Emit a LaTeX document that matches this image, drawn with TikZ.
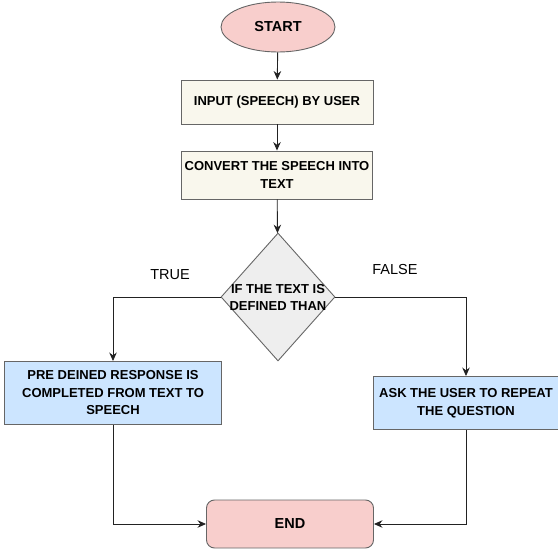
\documentclass[tikz,border=0pt]{standalone}
\usepackage{fontspec}
\setmainfont{Liberation Sans}
\usetikzlibrary{shapes.geometric,arrows.meta}

\definecolor{pinkfill}{HTML}{F8CECC}
\definecolor{beigefill}{HTML}{F9F7ED}
\definecolor{greyfill}{HTML}{EEEEEE}
\definecolor{bluefill}{HTML}{CCE5FF}
\definecolor{edgeline}{HTML}{666666}
\definecolor{arrowline}{HTML}{222222}

\begin{document}
\begin{tikzpicture}[x=1pt, y=-1pt,
      every node/.style = {draw=edgeline, line width=0.9pt, align=center,
        font=\fontsize{13}{17.5}\selectfont\bfseries, inner sep=2pt},
      terminal/.style = {shape=ellipse, fill=pinkfill,
        minimum width=114pt, minimum height=50pt,
        font=\fontsize{14.5}{17}\selectfont\bfseries},
      process/.style = {shape=rectangle, fill=beigefill},
      decision/.style = {shape=diamond, fill=greyfill, inner sep=0pt,
        minimum width=114pt, minimum height=128pt},
      outcome/.style = {shape=rectangle, fill=bluefill},
      finish/.style = {shape=rectangle, rounded corners=8pt, fill=pinkfill,
        minimum width=167pt, minimum height=48pt,
        font=\fontsize{14.5}{17}\selectfont\bfseries},
      plain/.style = {draw=none, fill=none, inner sep=0pt,
        font=\fontsize{14.5}{17}\selectfont},
      flow/.style = {draw=arrowline, line width=0.9pt,
        -{Stealth[length=8.5pt,width=7.5pt]}}]
    \useasboundingbox (0,0) rectangle (558,552);

    \node[terminal] (start) at (278,27) {START};
    \node[process, minimum width=192pt, minimum height=44pt] (input) at (277,102)
      {INPUT (SPEECH) BY USER};
    \node[process, minimum width=191pt, minimum height=48pt] (convert) at (277,175)
      {CONVERT THE SPEECH INTO\\TEXT};
    \node[decision] (decide) at (278,297) {};
    \node[plain, font=\fontsize{13}{17}\selectfont\bfseries] (decidetext)
      at (decide.center) {IF THE TEXT IS\\DEFINED THAN};
    \node[outcome, minimum width=217pt, minimum height=63pt] (predefined) at (113,393)
      {PRE DEINED RESPONSE IS\\COMPLETED FROM TEXT TO\\SPEECH};
    \node[outcome, minimum width=186pt, minimum height=53pt] (ask) at (466,403)
      {ASK THE USER TO REPEAT\\THE QUESTION};
    \node[finish] (stop) at (290,524) {END};

    \node[plain] (truelabel) at (170,275) {TRUE};
    \node[plain] (falselabel) at (395,270) {FALSE};

    \draw[flow] (start) -- (input);
    \draw[flow] (input) -- (convert);
    \draw[flow] (convert) -- (decide);
    \draw[flow] (decide.west) -| (predefined.north);
    \draw[flow] (decide.east) -| (ask.north);
    \draw[flow] (predefined.south) |- (stop.west);
    \draw[flow] (ask.south) |- (stop.east);
  \end{tikzpicture}
\end{document}
